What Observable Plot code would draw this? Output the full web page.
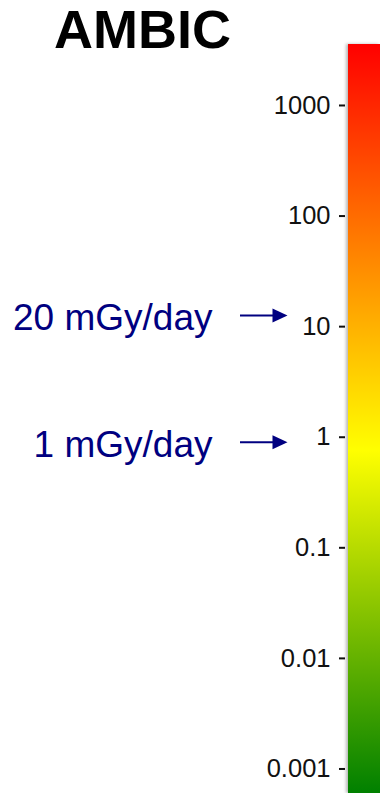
<!DOCTYPE html>
<html>
<head>
<meta charset="utf-8">
<script src="https://cdn.jsdelivr.net/npm/d3@7"></script>
<script src="https://cdn.jsdelivr.net/npm/@observablehq/plot@0.6"></script>
<style>
  html, body { margin: 0; padding: 0; background: #fff; }
  #wrap { position: relative; width: 380px; height: 793px; overflow: hidden;
          font-family: "Liberation Sans", Arial, sans-serif; }
  #title { position: absolute; left: 0; top: 2px; width: 285px; margin: 0;
           text-align: center; font-size: 54px; line-height: 54px; font-weight: bold; color: #000; }
  #wrap svg { position: absolute; left: 0; top: 0; }
  #wrap svg g[aria-label="rect"] rect { filter: drop-shadow(-2px 0 1.5px rgba(0,0,0,0.28)); }
</style>
</head>
<body>
<div id="wrap"><h1 id="title">AMBIC</h1></div>
<script>
// Dose-rate scale (log) shown as a colour bar with two reference markers
const tickValues = [0.001, 0.01, 0.1, 1, 10, 100, 1000];
const barExtent = [0.0006, 3560];
const gradientValues = [3560, 0.75, 0.0006];
const gradientColors = ["#ff0000", "#ffff00", "#008000"];
const annotationLabels = ["20 mGy/day", "1 mGy/day"];
const annotationValues = [12.6, 0.9];

const annotations = annotationLabels.map((label, i) => ({label, value: annotationValues[i]}));
const bar = [{low: barExtent[0], high: barExtent[1]}];

// Vertical gradient whose stops sit at their log-scale positions along the bar
const gradientDefs = () => {
  const pos = d3.scaleLog().domain([barExtent[1], barExtent[0]]).range([0, 1]);
  const defs = d3.create("svg:defs");
  const grad = defs.append("linearGradient")
    .attr("id", "dose-gradient")
    .attr("x1", 0).attr("x2", 0).attr("y1", 0).attr("y2", 1);
  gradientValues.forEach((v, i) => {
    grad.append("stop")
      .attr("offset", pos(v))
      .attr("stop-color", gradientColors[i]);
  });
  return defs.node();
};

// Filled arrowhead with its tip at the origin, pointing right
const arrowhead = {
  draw(context) {
    context.moveTo(0, 0);
    context.lineTo(-15, -7);
    context.lineTo(-15, 7);
    context.closePath();
  }
};

const chart = Plot.plot({
  width: 380,
  height: 793,
  marginTop: 44,
  marginBottom: 0,
  marginLeft: 348,
  marginRight: 0,
  style: {fontFamily: '"Liberation Sans", Arial, sans-serif', background: "transparent", color: "#111", overflow: "visible"},
  y: {type: "log", domain: barExtent},
  marks: [
    gradientDefs,
    Plot.rect(bar, {y1: "low", y2: "high", fill: "url(#dose-gradient)"}),
    Plot.axisY({
      anchor: "left",
      ticks: tickValues,
      tickFormat: (d) => String(d),
      tickSize: 6,
      tickPadding: 9,
      dx: -3,
      fontSize: 25.5,
      strokeWidth: 2,
      label: null
    }),
    Plot.ruleY(annotations, {y: "value", insetLeft: -108, insetRight: 104, stroke: "#000080", strokeWidth: 2}),
    Plot.dot(annotations, {y: "value", frameAnchor: "left", dx: -61, symbol: arrowhead, fill: "#000080", stroke: "none"}),
    Plot.text(annotations, {
      y: "value",
      text: "label",
      frameAnchor: "left",
      textAnchor: "end",
      dx: -136,
      dy: 3,
      fontSize: 37,
      fill: "#000080"
    })
  ]
});

document.getElementById("wrap").appendChild(chart);
</script>
</body>
</html>
